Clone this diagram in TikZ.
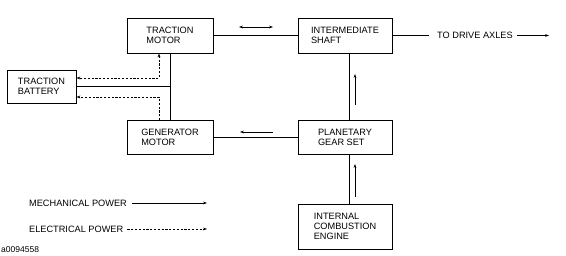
\documentclass[tikz,border=0pt]{standalone}
\usepackage{fontspec}
\setmainfont{Liberation Sans}
\usetikzlibrary{arrows.meta}
\tikzset{
  >={Stealth[length=4pt,width=2.8pt]},
  box/.style={draw, line width=0.8pt, minimum width=86pt, minimum height=35pt,
    inner sep=0pt, align=left, font=\fontsize{9.2}{10}\selectfont},
  mech/.style={line width=0.8pt},
  elec/.style={line width=0.8pt, dash pattern=on 2.2pt off 1.6pt},
  lbl/.style={font=\fontsize{9.2}{10}\selectfont, inner sep=0pt},
}
\begin{document}
\begin{tikzpicture}[x=1pt, y=-1pt]
  \useasboundingbox (0,0) rectangle (566,255);

  % Blocks
  \node[box] (tmotor) at (170,35.5) {TRACTION\\MOTOR};
  \node[box, minimum width=69pt, minimum height=33pt] (battery) at (41.5,86.5) {TRACTION\\BATTERY};
  \node[box, minimum height=34pt] (gmotor) at (170,137.5) {GENERATOR\\MOTOR};
  \node[box, minimum width=94pt] (shaft) at (345,35.5) {INTERMEDIATE\\SHAFT};
  \node[box, minimum width=94pt, minimum height=34pt] (gear) at (345,137.5) {PLANETARY\\GEAR SET};
  \node[box, minimum width=94pt, minimum height=45pt] (engine) at (345,226.5) {INTERNAL\\COMBUSTION\\ENGINE};

  % Mechanical links
  \draw[mech] (tmotor) -- (gmotor);
  \draw[mech] (battery.east) -- (battery.east -| tmotor.south);
  \draw[mech] (tmotor) -- (shaft);
  \draw[mech] (gmotor) -- (gear);
  \draw[mech] ([xshift=4pt]gear.north) -- ([xshift=4pt]shaft.south);
  \draw[mech] ([xshift=4pt]engine.north) -- ([xshift=4pt]gear.south);

  % Output to the axles
  \node[lbl, anchor=west] (axles) at (437,35.5) {TO DRIVE AXLES};
  \coordinate (axleend) at (549,35.5);
  \draw[mech] (shaft.east) -- ([xshift=-8pt]axles.west);
  \draw[mech, ->] ([xshift=4pt]axles.east) -- (axleend);

  % Electrical links
  \draw[elec, <->] ([xshift=-11pt]tmotor.south) |- ([yshift=8.5pt]battery.east);
  \draw[elec, ->] ([xshift=-11pt]gmotor.north) |- ([yshift=-10.5pt]battery.east);

  % Direction of power flow
  \draw[mech, <->] (239,27) -- (273,27);
  \draw[mech, ->] (273,132) -- (240,132);
  \draw[mech, ->] (355,105) -- (355,74);
  \draw[mech, ->] (355,197) -- (355,164);

  % Legend
  \node[lbl, anchor=west] (mechkey) at (29,203) {MECHANICAL POWER};
  \coordinate (mechend) at (207,203);
  \draw[mech, ->] ([xshift=5pt]mechkey.east) -- (mechend);
  \node[lbl, anchor=west] (eleckey) at (29,229) {ELECTRICAL POWER};
  \coordinate (elecend) at (207,229);
  \draw[elec, ->] ([xshift=4pt]eleckey.east) -- (elecend);
  \node[lbl, anchor=west, font=\fontsize{8.5}{9}\selectfont] (figid) at (1,250) {a0094558};
\end{tikzpicture}
\end{document}
